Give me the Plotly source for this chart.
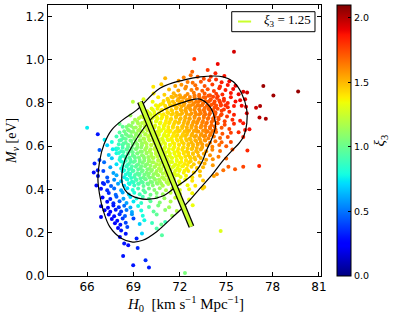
import numpy as np
import plotly.graph_objects as go

# ---------------- data ----------------
H0 = [
    75.5, 72.93, 74.45, 73.8, 74.3, 72.8,
    71.05, 72.25, 73.15, 74.0, 74.88, 73.55, 72.7,
    71.92, 72.5, 72.83, 73.36, 73.9, 74.34, 74.7, 75.2,
    70.8, 71.7, 72.1, 72.4, 73.0, 73.6, 74.1, 74.6, 75.1, 75.6, 77.4,
    71.3, 71.9, 72.35, 72.75, 73.1, 73.45, 73.8, 74.2, 74.55, 74.95, 75.45, 76.1, 76.35, 79.65,
    70.3, 71.0, 71.6, 72.0, 72.5, 72.9, 73.25, 73.6, 73.95, 74.35, 74.75, 75.3, 75.8, 78.05,
    69.65, 70.6, 71.2, 71.55, 71.9, 72.25, 72.6, 72.95, 73.3, 73.65, 74.0, 74.4, 74.85, 75.3, 75.9, 76.22,
    68.96, 70.24, 70.9, 71.3, 71.65, 72.0, 72.3, 72.6, 72.9, 73.2, 73.5, 73.85, 74.2, 74.6, 75.1, 75.6,
    70.6, 71.1, 71.45, 71.8, 72.1, 72.4, 72.7, 73.0, 73.3, 73.6, 73.9, 74.25, 74.65, 75.1, 75.5, 76.0, 76.28, 76.93, 77.19,
    69.9, 70.35, 70.8, 71.2, 71.5, 71.8, 72.1, 72.4, 72.7, 73.0, 73.3, 73.6, 73.95, 74.3, 74.7, 75.2, 76.33,
    68.8, 69.5, 70.1, 70.5, 70.85, 71.15, 71.45, 71.75, 72.05, 72.35, 72.65, 72.95, 73.25, 73.55, 73.9, 74.25, 74.65, 75.05, 75.5, 77.15, 77.56,
    69.1, 69.75, 70.15, 70.5, 70.8, 71.1, 71.4, 71.7, 72.0, 72.3, 72.6, 72.9, 73.2, 73.5, 73.8, 74.15, 74.5, 74.9, 75.4, 75.9,
    68.1, 68.7, 69.3, 69.75, 70.1, 70.4, 70.7, 71.0, 71.3, 71.6, 71.9, 72.2, 72.5, 72.8, 73.1, 73.4, 73.7, 74.05, 74.45, 74.9, 75.5, 76.1,
    66.0, 68.64, 69.0, 69.4, 69.75, 70.05, 70.35, 70.65, 70.95, 71.25, 71.55, 71.85, 72.15, 72.45, 72.75, 73.05, 73.35, 73.65, 73.95, 74.3, 74.7, 75.2, 76.22, 76.5,
    66.69, 68.1, 68.5, 68.85, 69.2, 69.5, 69.8, 70.1, 70.4, 70.7, 71.0, 71.3, 71.6, 71.9, 72.2, 72.5, 72.8, 73.1, 73.4, 73.7, 74.0, 74.35, 74.75, 75.3, 75.8,
    67.13, 67.9, 68.35, 68.7, 69.05, 69.35, 69.65, 69.95, 70.25, 70.55, 70.85, 71.15, 71.45, 71.75, 72.05, 72.35, 72.65, 72.95, 73.25, 73.55, 73.85, 74.2, 74.6, 75.1, 76.1,
    67.6, 68.1, 68.5, 68.85, 69.15, 69.45, 69.75, 70.05, 70.35, 70.65, 70.95, 71.25, 71.55, 71.85, 72.15, 72.45, 72.75, 73.05, 73.35, 73.65, 73.95, 74.3, 74.7, 75.3,
    67.3, 67.88, 68.3, 68.65, 68.95, 69.25, 69.55, 69.85, 70.15, 70.45, 70.75, 71.05, 71.35, 71.65, 71.95, 72.25, 72.55, 72.85, 73.15, 73.45, 73.75, 74.1, 74.55, 75.0,
    66.8, 67.66, 68.2, 68.55, 68.85, 69.15, 69.45, 69.75, 70.05, 70.35, 70.65, 70.95, 71.25, 71.55, 71.85, 72.15, 72.45, 72.75, 73.05, 73.35, 73.7, 74.1, 74.6, 76.37, 75.4,
    67.4, 67.9, 68.3, 68.65, 68.95, 69.25, 69.55, 69.85, 70.15, 70.45, 70.75, 71.05, 71.35, 71.65, 71.95, 72.25, 72.55, 72.85, 73.2, 73.55, 73.95, 74.5, 75.0,
    66.8, 67.6, 68.1, 68.5, 68.8, 69.1, 69.4, 69.7, 70.0, 70.3, 70.6, 70.9, 71.2, 71.5, 71.8, 72.1, 72.4, 72.7, 73.0, 73.35, 73.7, 74.13,
    66.48, 67.1, 67.9, 68.35, 68.7, 69.0, 69.3, 69.6, 69.9, 70.2, 70.5, 70.8, 71.1, 71.4, 71.7, 72.0, 72.3, 72.6, 72.9, 73.25, 73.6, 75.14, 75.57, 76.1, 77.13, 74.81, 74.39,
    66.69, 67.5, 68.2, 68.55, 68.85, 69.15, 69.45, 69.75, 70.05, 70.35, 70.65, 70.95, 71.25, 71.55, 71.85, 72.15, 72.45, 72.75, 73.1, 73.5, 74.13,
    66.43, 67.05, 67.7, 68.3, 68.65, 68.95, 69.25, 69.55, 69.85, 70.15, 70.45, 70.75, 71.05, 71.35, 71.65, 71.95, 72.25, 72.55, 72.9, 73.3,
    66.7, 67.3, 67.9, 68.4, 68.75, 69.05, 69.35, 69.65, 69.95, 70.25, 70.55, 70.85, 71.15, 71.45, 71.75, 72.05, 72.4, 72.8, 73.3, 74.2,
    67.02, 67.34, 67.75, 68.2, 68.6, 68.9, 69.2, 69.5, 69.8, 70.1, 70.4, 70.7, 71.0, 71.3, 71.6, 71.95, 72.35, 72.8, 73.5,
    66.6, 67.1, 67.55, 68.0, 68.4, 68.75, 69.05, 69.35, 69.65, 69.95, 70.25, 70.55, 70.9, 71.25, 71.6, 72.0, 72.5, 73.0,
    66.9, 67.3, 67.75, 68.2, 68.6, 68.95, 69.3, 69.65, 70.0, 70.35, 70.7, 71.1, 71.5, 72.0, 72.6, 73.48, 73.58,
    67.4, 67.85, 68.3, 68.7, 69.05, 69.4, 69.75, 70.1, 70.5, 70.9, 71.4, 72.0, 72.8,
    67.0, 67.5, 67.9, 68.35, 68.8, 69.2, 69.6, 70.0, 70.5, 71.0, 71.7, 72.6,
    67.3, 67.7, 68.1, 68.55, 69.0, 69.5, 70.1, 70.7, 71.4, 72.1, 72.83,
    66.9, 67.35, 67.7, 68.05, 68.4, 68.8, 69.3, 70.0, 70.6, 71.3, 72.3,
    67.13, 67.5, 67.85, 68.2, 68.55, 68.9, 69.5, 70.3, 71.05, 71.8,
    66.9, 67.4, 67.75, 68.1, 68.45, 68.9, 69.6, 70.5, 71.5,
    67.6, 67.95, 68.3, 69.0, 69.7, 71.05,
    67.8, 68.15, 68.5, 69.4, 70.2, 70.8,
    68.0, 68.2, 68.6, 70.5,
    68.12, 68.5, 69.55, 70.84, 74.64,
    68.4, 68.66, 69.2,
    68.33, 69.27, 69.78, 68.98, 70.0, 72.33,
    70.28, 70.17, 67.88, 68.3,
]

M_NU = [
    1.037, 1.003, 0.980, 0.952, 0.938, 0.944,
    0.914, 0.918, 0.921, 0.921, 0.925, 0.912, 0.928,
    0.903, 0.897, 0.894, 0.898, 0.905, 0.909, 0.896, 0.900,
    0.887, 0.878, 0.884, 0.875, 0.882, 0.879, 0.886, 0.876, 0.883, 0.880, 0.878,
    0.862, 0.858, 0.867, 0.860, 0.866, 0.857, 0.863, 0.855, 0.868, 0.860, 0.865, 0.852, 0.849, 0.853,
    0.844, 0.838, 0.845, 0.836, 0.842, 0.847, 0.838, 0.844, 0.836, 0.843, 0.839, 0.846, 0.840, 0.835,
    0.817, 0.826, 0.820, 0.826, 0.818, 0.824, 0.816, 0.827, 0.820, 0.825, 0.817, 0.823, 0.819, 0.826, 0.813, 0.817,
    0.806, 0.806, 0.798, 0.803, 0.797, 0.805, 0.799, 0.806, 0.797, 0.804, 0.799, 0.806, 0.798, 0.803, 0.800, 0.807,
    0.785, 0.778, 0.787, 0.779, 0.784, 0.776, 0.788, 0.780, 0.786, 0.777, 0.785, 0.779, 0.788, 0.780, 0.786, 0.787, 0.782, 0.778, 0.786,
    0.762, 0.758, 0.766, 0.757, 0.764, 0.756, 0.765, 0.759, 0.767, 0.756, 0.763, 0.758, 0.766, 0.757, 0.764, 0.760, 0.752,
    0.742, 0.738, 0.745, 0.736, 0.744, 0.737, 0.746, 0.739, 0.747, 0.736, 0.744, 0.738, 0.747, 0.740, 0.745, 0.737, 0.743, 0.738, 0.745, 0.733, 0.727,
    0.722, 0.716, 0.726, 0.718, 0.727, 0.717, 0.725, 0.716, 0.724, 0.718, 0.727, 0.715, 0.723, 0.717, 0.726, 0.719, 0.725, 0.716, 0.722, 0.718,
    0.703, 0.697, 0.705, 0.698, 0.706, 0.696, 0.704, 0.697, 0.706, 0.699, 0.707, 0.695, 0.703, 0.698, 0.706, 0.697, 0.705, 0.698, 0.706, 0.699, 0.704, 0.706,
    0.685, 0.676, 0.684, 0.677, 0.686, 0.678, 0.687, 0.675, 0.683, 0.677, 0.686, 0.678, 0.684, 0.676, 0.685, 0.679, 0.687, 0.676, 0.683, 0.678, 0.686, 0.680, 0.675, 0.678,
    0.655, 0.664, 0.657, 0.666, 0.658, 0.667, 0.656, 0.664, 0.658, 0.667, 0.657, 0.665, 0.659, 0.668, 0.656, 0.664, 0.658, 0.667, 0.657, 0.665, 0.659, 0.666, 0.658, 0.662, 0.665,
    0.630, 0.645, 0.637, 0.646, 0.638, 0.647, 0.636, 0.644, 0.638, 0.647, 0.636, 0.645, 0.637, 0.646, 0.639, 0.647, 0.636, 0.644, 0.638, 0.646, 0.637, 0.645, 0.638, 0.643, 0.643,
    0.620, 0.627, 0.616, 0.625, 0.617, 0.626, 0.618, 0.627, 0.615, 0.624, 0.619, 0.628, 0.616, 0.625, 0.618, 0.627, 0.617, 0.624, 0.619, 0.627, 0.616, 0.623, 0.618, 0.620,
    0.604, 0.590, 0.606, 0.598, 0.607, 0.596, 0.605, 0.597, 0.606, 0.598, 0.607, 0.596, 0.604, 0.598, 0.606, 0.597, 0.605, 0.599, 0.607, 0.596, 0.604, 0.598, 0.606, 0.600,
    0.583, 0.586, 0.577, 0.585, 0.578, 0.587, 0.576, 0.584, 0.578, 0.587, 0.576, 0.585, 0.577, 0.586, 0.578, 0.584, 0.576, 0.587, 0.578, 0.585, 0.577, 0.584, 0.578, 0.580, 0.585,
    0.560, 0.567, 0.556, 0.565, 0.557, 0.566, 0.558, 0.567, 0.555, 0.564, 0.558, 0.567, 0.556, 0.565, 0.557, 0.566, 0.558, 0.564, 0.556, 0.565, 0.558, 0.551, 0.543,
    0.536, 0.545, 0.537, 0.546, 0.538, 0.547, 0.536, 0.544, 0.538, 0.547, 0.536, 0.545, 0.537, 0.546, 0.538, 0.544, 0.536, 0.545, 0.539, 0.546, 0.537, 0.540,
    0.520, 0.526, 0.517, 0.525, 0.518, 0.527, 0.516, 0.524, 0.518, 0.526, 0.517, 0.525, 0.519, 0.527, 0.516, 0.524, 0.518, 0.526, 0.517, 0.525, 0.520, 0.505, 0.494, 0.505, 0.509, 0.489, 0.471,
    0.489, 0.503, 0.497, 0.506, 0.496, 0.505, 0.498, 0.507, 0.496, 0.504, 0.497, 0.506, 0.495, 0.504, 0.498, 0.507, 0.496, 0.505, 0.499, 0.503, 0.512,
    0.478, 0.485, 0.476, 0.484, 0.477, 0.486, 0.475, 0.483, 0.477, 0.486, 0.476, 0.484, 0.478, 0.487, 0.476, 0.485, 0.477, 0.486, 0.478, 0.484,
    0.462, 0.456, 0.466, 0.457, 0.465, 0.458, 0.467, 0.456, 0.464, 0.458, 0.467, 0.456, 0.465, 0.457, 0.466, 0.458, 0.464, 0.457, 0.463, 0.462,
    0.430, 0.437, 0.445, 0.438, 0.446, 0.436, 0.444, 0.437, 0.447, 0.436, 0.445, 0.438, 0.446, 0.437, 0.444, 0.438, 0.446, 0.440, 0.442,
    0.418, 0.425, 0.416, 0.426, 0.417, 0.425, 0.418, 0.427, 0.416, 0.424, 0.418, 0.427, 0.417, 0.425, 0.418, 0.426, 0.420, 0.417,
    0.403, 0.396, 0.405, 0.397, 0.406, 0.398, 0.405, 0.396, 0.404, 0.398, 0.406, 0.397, 0.404, 0.398, 0.401, 0.405, 0.412,
    0.384, 0.376, 0.386, 0.377, 0.385, 0.378, 0.387, 0.376, 0.384, 0.378, 0.385, 0.380, 0.383,
    0.363, 0.356, 0.366, 0.357, 0.365, 0.358, 0.366, 0.357, 0.364, 0.359, 0.362, 0.354,
    0.343, 0.336, 0.346, 0.337, 0.345, 0.338, 0.346, 0.340, 0.344, 0.337, 0.327,
    0.322, 0.316, 0.326, 0.318, 0.325, 0.317, 0.324, 0.319, 0.326, 0.318, 0.322,
    0.304, 0.297, 0.306, 0.298, 0.305, 0.296, 0.303, 0.298, 0.305, 0.300,
    0.273, 0.284, 0.276, 0.286, 0.277, 0.285, 0.278, 0.284, 0.279,
    0.264, 0.256, 0.266, 0.266, 0.258, 0.250,
    0.244, 0.237, 0.246, 0.240, 0.245, 0.238,
    0.222, 0.210, 0.226, 0.220,
    0.180, 0.195, 0.196, 0.188, 0.208,
    0.150, 0.142, 0.173,
    0.093, 0.130, 0.073, 0.050, 0.039, 0.014,
    0.875, 0.775, 0.585, 0.690,
]

XI3 = [
    1.95, 1.82, 1.90, 1.79, 1.84, 1.69,
    1.50, 1.62, 1.71, 1.79, 1.87, 1.75, 1.66,
    1.57, 1.63, 1.66, 1.72, 1.77, 1.82, 1.85, 1.89,
    1.45, 1.54, 1.58, 1.61, 1.67, 1.73, 1.78, 1.83, 1.87, 1.91, 2.05,
    1.49, 1.55, 1.59, 1.63, 1.67, 1.70, 1.74, 1.78, 1.81, 1.85, 1.89, 1.93, 1.95, 2.06,
    1.38, 1.45, 1.51, 1.55, 1.60, 1.64, 1.67, 1.71, 1.74, 1.78, 1.82, 1.87, 1.90, 2.04,
    1.30, 1.39, 1.45, 1.49, 1.53, 1.56, 1.60, 1.63, 1.67, 1.70, 1.74, 1.78, 1.82, 1.86, 1.90, 1.92,
    1.21, 1.35, 1.41, 1.45, 1.49, 1.52, 1.55, 1.58, 1.61, 1.64, 1.67, 1.71, 1.74, 1.78, 1.83, 1.88,
    1.37, 1.42, 1.46, 1.49, 1.52, 1.55, 1.58, 1.61, 1.64, 1.67, 1.70, 1.74, 1.78, 1.82, 1.86, 1.89, 1.91, 1.96, 2.02,
    1.29, 1.34, 1.38, 1.42, 1.45, 1.48, 1.51, 1.54, 1.57, 1.60, 1.63, 1.66, 1.70, 1.73, 1.77, 1.82, 1.91,
    1.13, 1.24, 1.30, 1.34, 1.37, 1.40, 1.43, 1.46, 1.49, 1.52, 1.55, 1.58, 1.61, 1.64, 1.68, 1.71, 1.75, 1.79, 1.84, 2.00, 2.02,
    1.16, 1.25, 1.30, 1.33, 1.36, 1.39, 1.42, 1.45, 1.48, 1.51, 1.54, 1.57, 1.60, 1.63, 1.66, 1.69, 1.73, 1.77, 1.82, 1.86,
    1.00, 1.08, 1.17, 1.24, 1.28, 1.31, 1.34, 1.37, 1.40, 1.43, 1.46, 1.49, 1.52, 1.55, 1.58, 1.61, 1.64, 1.67, 1.71, 1.76, 1.82, 1.87,
    0.75, 1.06, 1.11, 1.17, 1.22, 1.26, 1.29, 1.32, 1.35, 1.38, 1.41, 1.44, 1.47, 1.50, 1.53, 1.56, 1.59, 1.62, 1.65, 1.68, 1.72, 1.77, 1.87, 1.89,
    0.30, 0.96, 1.02, 1.07, 1.12, 1.17, 1.21, 1.25, 1.28, 1.31, 1.34, 1.37, 1.40, 1.43, 1.46, 1.49, 1.52, 1.55, 1.58, 1.61, 1.64, 1.68, 1.72, 1.77, 1.82,
    0.75, 0.90, 0.97, 1.03, 1.08, 1.13, 1.17, 1.22, 1.26, 1.29, 1.32, 1.35, 1.38, 1.41, 1.44, 1.47, 1.50, 1.53, 1.56, 1.59, 1.62, 1.65, 1.69, 1.74, 1.84,
    0.80, 0.91, 0.98, 1.04, 1.08, 1.13, 1.17, 1.21, 1.26, 1.29, 1.32, 1.35, 1.38, 1.41, 1.44, 1.47, 1.50, 1.53, 1.56, 1.59, 1.62, 1.65, 1.69, 1.75,
    0.70, 0.84, 0.93, 0.99, 1.03, 1.08, 1.12, 1.17, 1.21, 1.25, 1.28, 1.31, 1.34, 1.37, 1.40, 1.43, 1.46, 1.49, 1.52, 1.55, 1.58, 1.62, 1.66, 1.71,
    0.45, 0.75, 0.88, 0.95, 1.00, 1.05, 1.09, 1.14, 1.18, 1.22, 1.26, 1.29, 1.32, 1.35, 1.38, 1.41, 1.44, 1.47, 1.50, 1.53, 1.57, 1.61, 1.66, 1.83, 1.72,
    0.66, 0.79, 0.88, 0.95, 1.00, 1.05, 1.09, 1.14, 1.18, 1.22, 1.26, 1.29, 1.32, 1.35, 1.38, 1.41, 1.44, 1.47, 1.51, 1.54, 1.58, 1.64, 1.68,
    0.38, 0.68, 0.81, 0.90, 0.96, 1.00, 1.05, 1.09, 1.14, 1.18, 1.23, 1.26, 1.29, 1.32, 1.35, 1.38, 1.41, 1.44, 1.47, 1.51, 1.54, 1.59,
    0.32, 0.48, 0.73, 0.84, 0.92, 0.97, 1.02, 1.06, 1.11, 1.15, 1.20, 1.24, 1.27, 1.30, 1.33, 1.36, 1.39, 1.42, 1.45, 1.49, 1.52, 1.70, 1.72, 1.76, 1.84, 1.66, 1.60,
    0.30, 0.60, 0.77, 0.86, 0.92, 0.97, 1.02, 1.07, 1.11, 1.16, 1.20, 1.24, 1.28, 1.31, 1.34, 1.37, 1.40, 1.43, 1.46, 1.50, 1.57,
    0.28, 0.40, 0.60, 0.76, 0.86, 0.92, 0.97, 1.02, 1.06, 1.11, 1.15, 1.20, 1.24, 1.28, 1.31, 1.34, 1.37, 1.40, 1.43, 1.47,
    0.30, 0.44, 0.62, 0.76, 0.85, 0.92, 0.97, 1.02, 1.06, 1.11, 1.15, 1.20, 1.24, 1.27, 1.30, 1.33, 1.37, 1.41, 1.46, 1.55,
    0.32, 0.40, 0.55, 0.69, 0.79, 0.86, 0.92, 0.97, 1.02, 1.07, 1.11, 1.16, 1.20, 1.24, 1.28, 1.31, 1.35, 1.40, 1.47,
    0.26, 0.33, 0.46, 0.60, 0.71, 0.80, 0.87, 0.93, 0.98, 1.03, 1.07, 1.12, 1.17, 1.22, 1.27, 1.31, 1.35, 1.40,
    0.28, 0.35, 0.48, 0.62, 0.73, 0.82, 0.90, 0.96, 1.02, 1.07, 1.12, 1.18, 1.24, 1.29, 1.35, 1.44, 1.45,
    0.34, 0.48, 0.62, 0.72, 0.81, 0.89, 0.96, 1.01, 1.07, 1.13, 1.21, 1.28, 1.36,
    0.26, 0.33, 0.45, 0.60, 0.72, 0.82, 0.91, 0.98, 1.06, 1.13, 1.24, 1.33,
    0.28, 0.34, 0.45, 0.60, 0.74, 0.86, 0.97, 1.07, 1.17, 1.27, 1.34,
    0.22, 0.27, 0.30, 0.36, 0.48, 0.62, 0.78, 0.94, 1.04, 1.14, 1.28,
    0.22, 0.27, 0.31, 0.38, 0.50, 0.62, 0.80, 0.97, 1.09, 1.20,
    0.20, 0.24, 0.28, 0.35, 0.45, 0.58, 0.80, 0.98, 1.14,
    0.25, 0.29, 0.38, 0.40, 0.78, 0.90,
    0.26, 0.30, 0.40, 0.68, 0.88, 1.00,
    0.27, 0.30, 0.40, 0.93,
    0.26, 0.30, 0.70, 0.95, 1.30,
    0.30, 0.28, 0.32,
    0.30, 0.34, 0.35, 0.30, 0.32, 1.05,
    1.40, 1.33, 0.78, 0.98,
]

# extra samples filling the dense core of the cloud
CORE_H0 = [
    71.45, 71.75, 72.05, 72.35, 72.65, 72.95, 73.25, 73.55, 73.85, 74.15, 74.45,
    70.95, 71.25, 71.55, 71.85, 72.15, 72.45, 72.75, 73.05, 73.35, 73.65, 73.95, 74.25, 74.55, 74.85,
    70.45, 70.75, 71.05, 71.35, 71.65, 71.95, 72.25, 72.55, 72.85, 73.15, 73.45, 73.75, 74.05, 74.35, 74.65, 74.95,
    70.25, 70.55, 70.85, 71.15, 71.45, 71.75, 72.05, 72.35, 72.65, 72.95, 73.25, 73.55, 73.85, 74.15, 74.45, 74.85,
    69.75, 70.05, 70.35, 70.65, 70.95, 71.25, 71.55, 71.85, 72.15, 72.45, 72.75, 73.05, 73.35, 73.65, 73.95, 74.3, 74.7,
    69.35, 69.65, 69.95, 70.25, 70.55, 70.85, 71.15, 71.45, 71.75, 72.05, 72.35, 72.65, 72.95, 73.25, 73.55, 73.85, 74.15, 74.5,
    68.95, 69.25, 69.55, 69.85, 70.15, 70.45, 70.75, 71.05, 71.35, 71.65, 71.95, 72.25, 72.55, 72.85, 73.15, 73.45, 73.75, 74.05, 74.4,
    68.55, 68.85, 69.15, 69.45, 69.75, 70.05, 70.35, 70.65, 70.95, 71.25, 71.55, 71.85, 72.15, 72.45, 72.75, 73.05, 73.35, 73.65, 73.95, 74.25,
    68.4, 68.7, 69.0, 69.3, 69.6, 69.9, 70.2, 70.5, 70.8, 71.1, 71.4, 71.7, 72.0, 72.3, 72.6, 72.9, 73.2, 73.5, 73.8, 74.1,
    68.25, 68.55, 68.85, 69.15, 69.45, 69.75, 70.05, 70.35, 70.65, 70.95, 71.25, 71.55, 71.85, 72.15, 72.45, 72.75, 73.05, 73.35, 73.65, 73.95,
    68.2, 68.5, 68.8, 69.1, 69.4, 69.7, 70.0, 70.3, 70.6, 70.9, 71.2, 71.5, 71.8, 72.1, 72.4, 72.7, 73.0, 73.3, 73.6,
    68.05, 68.35, 68.65, 68.95, 69.25, 69.55, 69.85, 70.15, 70.45, 70.75, 71.05, 71.35, 71.65, 71.95, 72.25, 72.55, 72.85, 73.15, 73.45,
    68.0, 68.3, 68.6, 68.9, 69.2, 69.5, 69.8, 70.1, 70.4, 70.7, 71.0, 71.3, 71.6, 71.9, 72.2, 72.5, 72.8, 73.1, 73.4,
    68.05, 68.35, 68.65, 68.95, 69.25, 69.55, 69.85, 70.15, 70.45, 70.75, 71.05, 71.35, 71.65, 71.95, 72.25, 72.55, 72.85, 73.15,
    68.15, 68.45, 68.75, 69.05, 69.35, 69.65, 69.95, 70.25, 70.55, 70.85, 71.15, 71.45, 71.75, 72.05, 72.35, 72.65, 72.95,
    68.2, 68.5, 68.8, 69.1, 69.4, 69.7, 70.0, 70.3, 70.6, 70.9, 71.2, 71.5, 71.8, 72.1, 72.4, 72.7,
    68.3, 68.6, 68.9, 69.2, 69.5, 69.8, 70.1, 70.4, 70.7, 71.0, 71.3, 71.6, 71.9, 72.2, 72.5,
    68.4, 68.7, 69.0, 69.3, 69.6, 69.9, 70.2, 70.5, 70.8, 71.1, 71.4, 71.7, 72.0, 72.3,
    68.5, 68.8, 69.1, 69.4, 69.7, 70.0, 70.3, 70.6, 70.9, 71.2, 71.5, 71.9,
    68.55, 68.85, 69.15, 69.45, 69.75, 70.05, 70.35, 70.65, 70.95, 71.25, 71.6,
    68.7, 69.0, 69.3, 69.6, 69.9, 70.2, 70.5, 70.8, 71.15,
]
CORE_MNU = [
    0.829, 0.833, 0.827, 0.832, 0.828, 0.834, 0.830, 0.826, 0.833, 0.829, 0.831,
    0.809, 0.813, 0.807, 0.812, 0.808, 0.814, 0.810, 0.806, 0.813, 0.809, 0.811, 0.807, 0.812, 0.810,
    0.789, 0.793, 0.787, 0.792, 0.788, 0.794, 0.790, 0.786, 0.793, 0.789, 0.791, 0.787, 0.792, 0.788, 0.793, 0.790,
    0.769, 0.773, 0.767, 0.772, 0.768, 0.774, 0.770, 0.766, 0.773, 0.769, 0.771, 0.767, 0.772, 0.768, 0.773, 0.770,
    0.749, 0.753, 0.747, 0.752, 0.748, 0.754, 0.750, 0.746, 0.753, 0.749, 0.751, 0.747, 0.752, 0.748, 0.753, 0.750, 0.748,
    0.729, 0.733, 0.727, 0.732, 0.728, 0.734, 0.730, 0.726, 0.733, 0.729, 0.731, 0.727, 0.732, 0.728, 0.733, 0.730, 0.728, 0.732,
    0.709, 0.713, 0.707, 0.712, 0.708, 0.714, 0.710, 0.706, 0.713, 0.709, 0.711, 0.707, 0.712, 0.708, 0.713, 0.710, 0.708, 0.712, 0.709,
    0.689, 0.693, 0.687, 0.692, 0.688, 0.694, 0.690, 0.686, 0.693, 0.689, 0.691, 0.687, 0.692, 0.688, 0.693, 0.690, 0.688, 0.692, 0.689, 0.691,
    0.669, 0.673, 0.667, 0.672, 0.668, 0.674, 0.670, 0.666, 0.673, 0.669, 0.671, 0.667, 0.672, 0.668, 0.673, 0.670, 0.668, 0.672, 0.669, 0.671,
    0.649, 0.653, 0.647, 0.652, 0.648, 0.654, 0.650, 0.646, 0.653, 0.649, 0.651, 0.647, 0.652, 0.648, 0.653, 0.650, 0.648, 0.652, 0.649, 0.651,
    0.629, 0.633, 0.627, 0.632, 0.628, 0.634, 0.630, 0.626, 0.633, 0.629, 0.631, 0.627, 0.632, 0.628, 0.633, 0.630, 0.628, 0.632, 0.629,
    0.609, 0.613, 0.607, 0.612, 0.608, 0.614, 0.610, 0.606, 0.613, 0.609, 0.611, 0.607, 0.612, 0.608, 0.613, 0.610, 0.608, 0.612, 0.609,
    0.589, 0.593, 0.587, 0.592, 0.588, 0.594, 0.590, 0.586, 0.593, 0.589, 0.591, 0.587, 0.592, 0.588, 0.593, 0.590, 0.588, 0.592, 0.589,
    0.569, 0.573, 0.567, 0.572, 0.568, 0.574, 0.570, 0.566, 0.573, 0.569, 0.571, 0.567, 0.572, 0.568, 0.573, 0.570, 0.568, 0.572,
    0.549, 0.553, 0.547, 0.552, 0.548, 0.554, 0.550, 0.546, 0.553, 0.549, 0.551, 0.547, 0.552, 0.548, 0.553, 0.550, 0.548,
    0.529, 0.533, 0.527, 0.532, 0.528, 0.534, 0.530, 0.526, 0.533, 0.529, 0.531, 0.527, 0.532, 0.528, 0.533, 0.530,
    0.509, 0.513, 0.507, 0.512, 0.508, 0.514, 0.510, 0.506, 0.513, 0.509, 0.511, 0.507, 0.512, 0.508, 0.513,
    0.489, 0.493, 0.487, 0.492, 0.488, 0.494, 0.490, 0.486, 0.493, 0.489, 0.491, 0.487, 0.492, 0.488,
    0.469, 0.473, 0.467, 0.472, 0.468, 0.474, 0.470, 0.466, 0.473, 0.469, 0.471, 0.467,
    0.449, 0.453, 0.447, 0.452, 0.448, 0.454, 0.450, 0.446, 0.453, 0.449, 0.451,
    0.429, 0.433, 0.427, 0.432, 0.428, 0.434, 0.430, 0.426, 0.433,
]
CORE_XI3 = [
    1.49, 1.52, 1.55, 1.58, 1.61, 1.64, 1.67, 1.70, 1.73, 1.76, 1.79,
    1.42, 1.45, 1.48, 1.51, 1.54, 1.57, 1.60, 1.63, 1.66, 1.69, 1.72, 1.75, 1.78, 1.81,
    1.36, 1.39, 1.42, 1.45, 1.48, 1.51, 1.54, 1.57, 1.60, 1.63, 1.66, 1.69, 1.72, 1.75, 1.78, 1.81,
    1.33, 1.36, 1.39, 1.42, 1.45, 1.48, 1.51, 1.54, 1.57, 1.60, 1.63, 1.66, 1.69, 1.72, 1.75, 1.79,
    1.27, 1.30, 1.33, 1.36, 1.39, 1.42, 1.45, 1.48, 1.51, 1.54, 1.57, 1.60, 1.63, 1.66, 1.69, 1.72, 1.76,
    1.21, 1.25, 1.28, 1.31, 1.34, 1.37, 1.40, 1.43, 1.46, 1.49, 1.52, 1.55, 1.58, 1.61, 1.64, 1.67, 1.70, 1.73,
    1.13, 1.17, 1.21, 1.25, 1.29, 1.32, 1.35, 1.38, 1.41, 1.44, 1.47, 1.50, 1.53, 1.56, 1.59, 1.62, 1.65, 1.68, 1.71,
    1.05, 1.10, 1.14, 1.18, 1.23, 1.27, 1.30, 1.33, 1.36, 1.39, 1.42, 1.45, 1.48, 1.51, 1.54, 1.57, 1.60, 1.63, 1.66, 1.69,
    1.01, 1.06, 1.10, 1.15, 1.19, 1.23, 1.27, 1.30, 1.33, 1.36, 1.39, 1.42, 1.45, 1.48, 1.51, 1.54, 1.57, 1.60, 1.63, 1.66,
    0.97, 1.02, 1.06, 1.11, 1.15, 1.19, 1.24, 1.27, 1.30, 1.33, 1.36, 1.39, 1.42, 1.45, 1.48, 1.51, 1.54, 1.57, 1.60, 1.63,
    0.94, 0.99, 1.03, 1.08, 1.12, 1.17, 1.21, 1.25, 1.28, 1.31, 1.34, 1.37, 1.40, 1.43, 1.46, 1.49, 1.52, 1.55, 1.58,
    0.89, 0.95, 1.00, 1.04, 1.09, 1.13, 1.18, 1.22, 1.26, 1.29, 1.32, 1.35, 1.38, 1.41, 1.44, 1.47, 1.50, 1.53, 1.56,
    0.85, 0.92, 0.97, 1.01, 1.06, 1.10, 1.15, 1.19, 1.24, 1.27, 1.30, 1.33, 1.36, 1.39, 1.42, 1.45, 1.48, 1.51, 1.54,
    0.84, 0.91, 0.96, 1.00, 1.05, 1.09, 1.14, 1.18, 1.23, 1.26, 1.29, 1.32, 1.35, 1.38, 1.41, 1.44, 1.47, 1.50,
    0.84, 0.90, 0.95, 1.00, 1.04, 1.09, 1.13, 1.18, 1.22, 1.26, 1.29, 1.32, 1.35, 1.38, 1.41, 1.44, 1.47,
    0.82, 0.88, 0.94, 0.98, 1.03, 1.07, 1.12, 1.16, 1.21, 1.25, 1.28, 1.31, 1.34, 1.37, 1.40, 1.43,
    0.82, 0.88, 0.94, 0.98, 1.03, 1.07, 1.12, 1.16, 1.21, 1.25, 1.28, 1.31, 1.34, 1.37, 1.40,
    0.81, 0.87, 0.93, 0.97, 1.02, 1.06, 1.11, 1.15, 1.20, 1.25, 1.28, 1.31, 1.34, 1.37,
    0.81, 0.87, 0.93, 0.97, 1.02, 1.06, 1.11, 1.15, 1.20, 1.25, 1.28, 1.32,
    0.79, 0.86, 0.91, 0.96, 1.01, 1.05, 1.10, 1.14, 1.19, 1.24, 1.28,
    0.80, 0.86, 0.92, 0.96, 1.01, 1.05, 1.10, 1.14, 1.19,
]

# confidence contours (68% inner, 95% outer)
OUTER_H0 = [68.95, 69.6, 70.5, 71.5, 72.1, 72.7, 73.3, 74.1, 74.8, 75.4, 75.85, 76.15, 76.33, 76.33,
            76.0, 75.46, 74.8, 73.3, 72.22, 70.71, 69.2, 68.3, 67.58, 67.1, 66.82, 66.7, 66.8, 67.04,
            67.47, 68.2, 68.95]
OUTER_MNU = [0.157, 0.165, 0.205, 0.27, 0.31, 0.355, 0.405, 0.47, 0.535, 0.582, 0.615, 0.650, 0.706, 0.767,
             0.844, 0.898, 0.921, 0.921, 0.906, 0.868, 0.767, 0.722, 0.675, 0.61, 0.536, 0.45, 0.38, 0.304,
             0.227, 0.175, 0.157]
INNER_H0 = [70.0, 70.9, 71.7, 72.5, 73.1, 73.45, 73.75, 74.1, 74.3, 74.25, 73.95, 73.3, 72.0, 71.0,
            70.28, 69.42, 68.77, 68.44, 68.25, 68.3, 68.6, 69.3, 70.0]
INNER_MNU = [0.355, 0.37, 0.41, 0.45, 0.49, 0.53, 0.585, 0.64, 0.69, 0.73, 0.782, 0.818, 0.798, 0.77,
             0.736, 0.659, 0.582, 0.536, 0.47, 0.42, 0.385, 0.36, 0.355]

# line of constant xi_3 = 1.25
BAND_XI3 = 1.25
BAND_H0 = [69.42, 72.75]
BAND_MNU = [0.805, 0.228]

X_TICKS = [66, 69, 72, 75, 78, 81]
Y_TICKS = [0.0, 0.2, 0.4, 0.6, 0.8, 1.0, 1.2]
CB_TICKS = [0.0, 0.5, 1.0, 1.5, 2.0]
XI_MIN, XI_MAX = 0.0, 2.1

n1 = min(len(H0), len(M_NU), len(XI3))
n2 = min(len(CORE_H0), len(CORE_MNU), len(CORE_XI3))
all_h0 = H0[:n1] + CORE_H0[:n2]
all_m = M_NU[:n1] + CORE_MNU[:n2]
all_xi = XI3[:n1] + CORE_XI3[:n2]

# ---------------- matplotlib "jet" colormap ----------------
def jet(v):
    r = np.interp(v, [0, 0.35, 0.66, 0.89, 1], [0, 0, 1, 1, 0.5])
    g = np.interp(v, [0, 0.125, 0.375, 0.64, 0.91, 1], [0, 0, 1, 1, 0, 0])
    b = np.interp(v, [0, 0.11, 0.34, 0.65, 1], [0.5, 1, 1, 0, 0])
    return 'rgb(%d,%d,%d)' % (round(r * 255), round(g * 255), round(b * 255))

stops = np.linspace(0, 1, 101)
JET = [[float(t), jet(t)] for t in stops]
band_color = jet((BAND_XI3 - XI_MIN) / (XI_MAX - XI_MIN))

fig = go.Figure()
fig.add_trace(go.Scatter(
    x=all_h0, y=all_m, mode='markers',
    marker=dict(size=4, color=all_xi, colorscale=JET, cmin=XI_MIN, cmax=XI_MAX,
                line=dict(width=0),
                colorbar=dict(x=1.0586, xanchor='left', y=0.5, yanchor='middle',
                              len=1, lenmode='fraction', thickness=14, xpad=0, ypad=0,
                              outlinewidth=1, outlinecolor='black',
                              tickvals=CB_TICKS, tickformat='.1f', ticks='inside',
                              ticklen=3, tickcolor='black',
                              tickfont=dict(family='DejaVu Sans', size=9.5, color='black'))),
    hoverinfo='skip', showlegend=False))

for cx, cy in [(OUTER_H0, OUTER_MNU), (INNER_H0, INNER_MNU)]:
    fig.add_trace(go.Scatter(x=cx, y=cy, mode='lines',
                             line=dict(color='black', width=1.2, shape='spline', smoothing=1.0),
                             hoverinfo='skip', showlegend=False))

fig.add_trace(go.Scatter(x=BAND_H0, y=BAND_MNU, mode='lines',
                         line=dict(color='black', width=6), hoverinfo='skip', showlegend=False))
fig.add_trace(go.Scatter(x=BAND_H0, y=BAND_MNU, mode='lines',
                         line=dict(color=band_color, width=3.5), hoverinfo='skip', showlegend=False))

axis_common = dict(showgrid=False, zeroline=False, showline=True, linecolor='black', linewidth=1,
                   mirror='ticks', ticks='inside', ticklen=4, tickcolor='black', tickwidth=1,
                   tickfont=dict(family='DejaVu Sans', size=12, color='black'))
fig.update_xaxes(range=[63.47, 81.13], tickvals=X_TICKS, **axis_common)
fig.update_yaxes(range=[0, 1.253], tickvals=Y_TICKS, tickformat='.1f', **axis_common)

serif = 'Liberation Serif'
fig.update_layout(
    width=394, height=319,
    margin=dict(l=48, r=73, t=5, b=43, autoexpand=False),
    paper_bgcolor='white', plot_bgcolor='white',
    showlegend=False,
    shapes=[
        dict(type='rect', xref='paper', yref='paper', x0=0.673, x1=0.978, y0=0.9015, y1=0.9753,
             line=dict(color='black', width=1), fillcolor='white', layer='above'),
        dict(type='line', xref='paper', yref='paper', x0=0.696, x1=0.744, y0=0.939, y1=0.939,
             line=dict(color=band_color, width=2), layer='above'),
    ],
    annotations=[
        dict(text='<i>ξ</i><sub>3</sub> = 1.25', xref='paper', yref='paper', x=0.785, y=0.941,
             xanchor='left', yanchor='middle', showarrow=False,
             font=dict(family=serif, size=13, color='black')),
        dict(text='<i>H</i><sub>0</sub>  [km s<sup>−1</sup> Mpc<sup>−1</sup>]', xref='paper', yref='paper',
             x=0.502, y=-0.105, xanchor='center', yanchor='middle', showarrow=False,
             font=dict(family=serif, size=15, color='black')),
        dict(text='<i>M</i><sub><i>ν</i></sub> [eV]', xref='paper', yref='paper',
             x=-0.132, y=0.498, xanchor='center', yanchor='middle', showarrow=False, textangle=-90,
             font=dict(family=serif, size=14, color='black')),
        dict(text='<i>ξ</i><sub>3</sub>', xref='paper', yref='paper',
             x=1.216, y=0.5, xanchor='center', yanchor='middle', showarrow=False, textangle=-90,
             font=dict(family=serif, size=15, color='black')),
    ],
)

fig.write_html('out.html', config={'displayModeBar': False},
               post_script="document.body.style.margin='0px';document.body.style.padding='0px';")
